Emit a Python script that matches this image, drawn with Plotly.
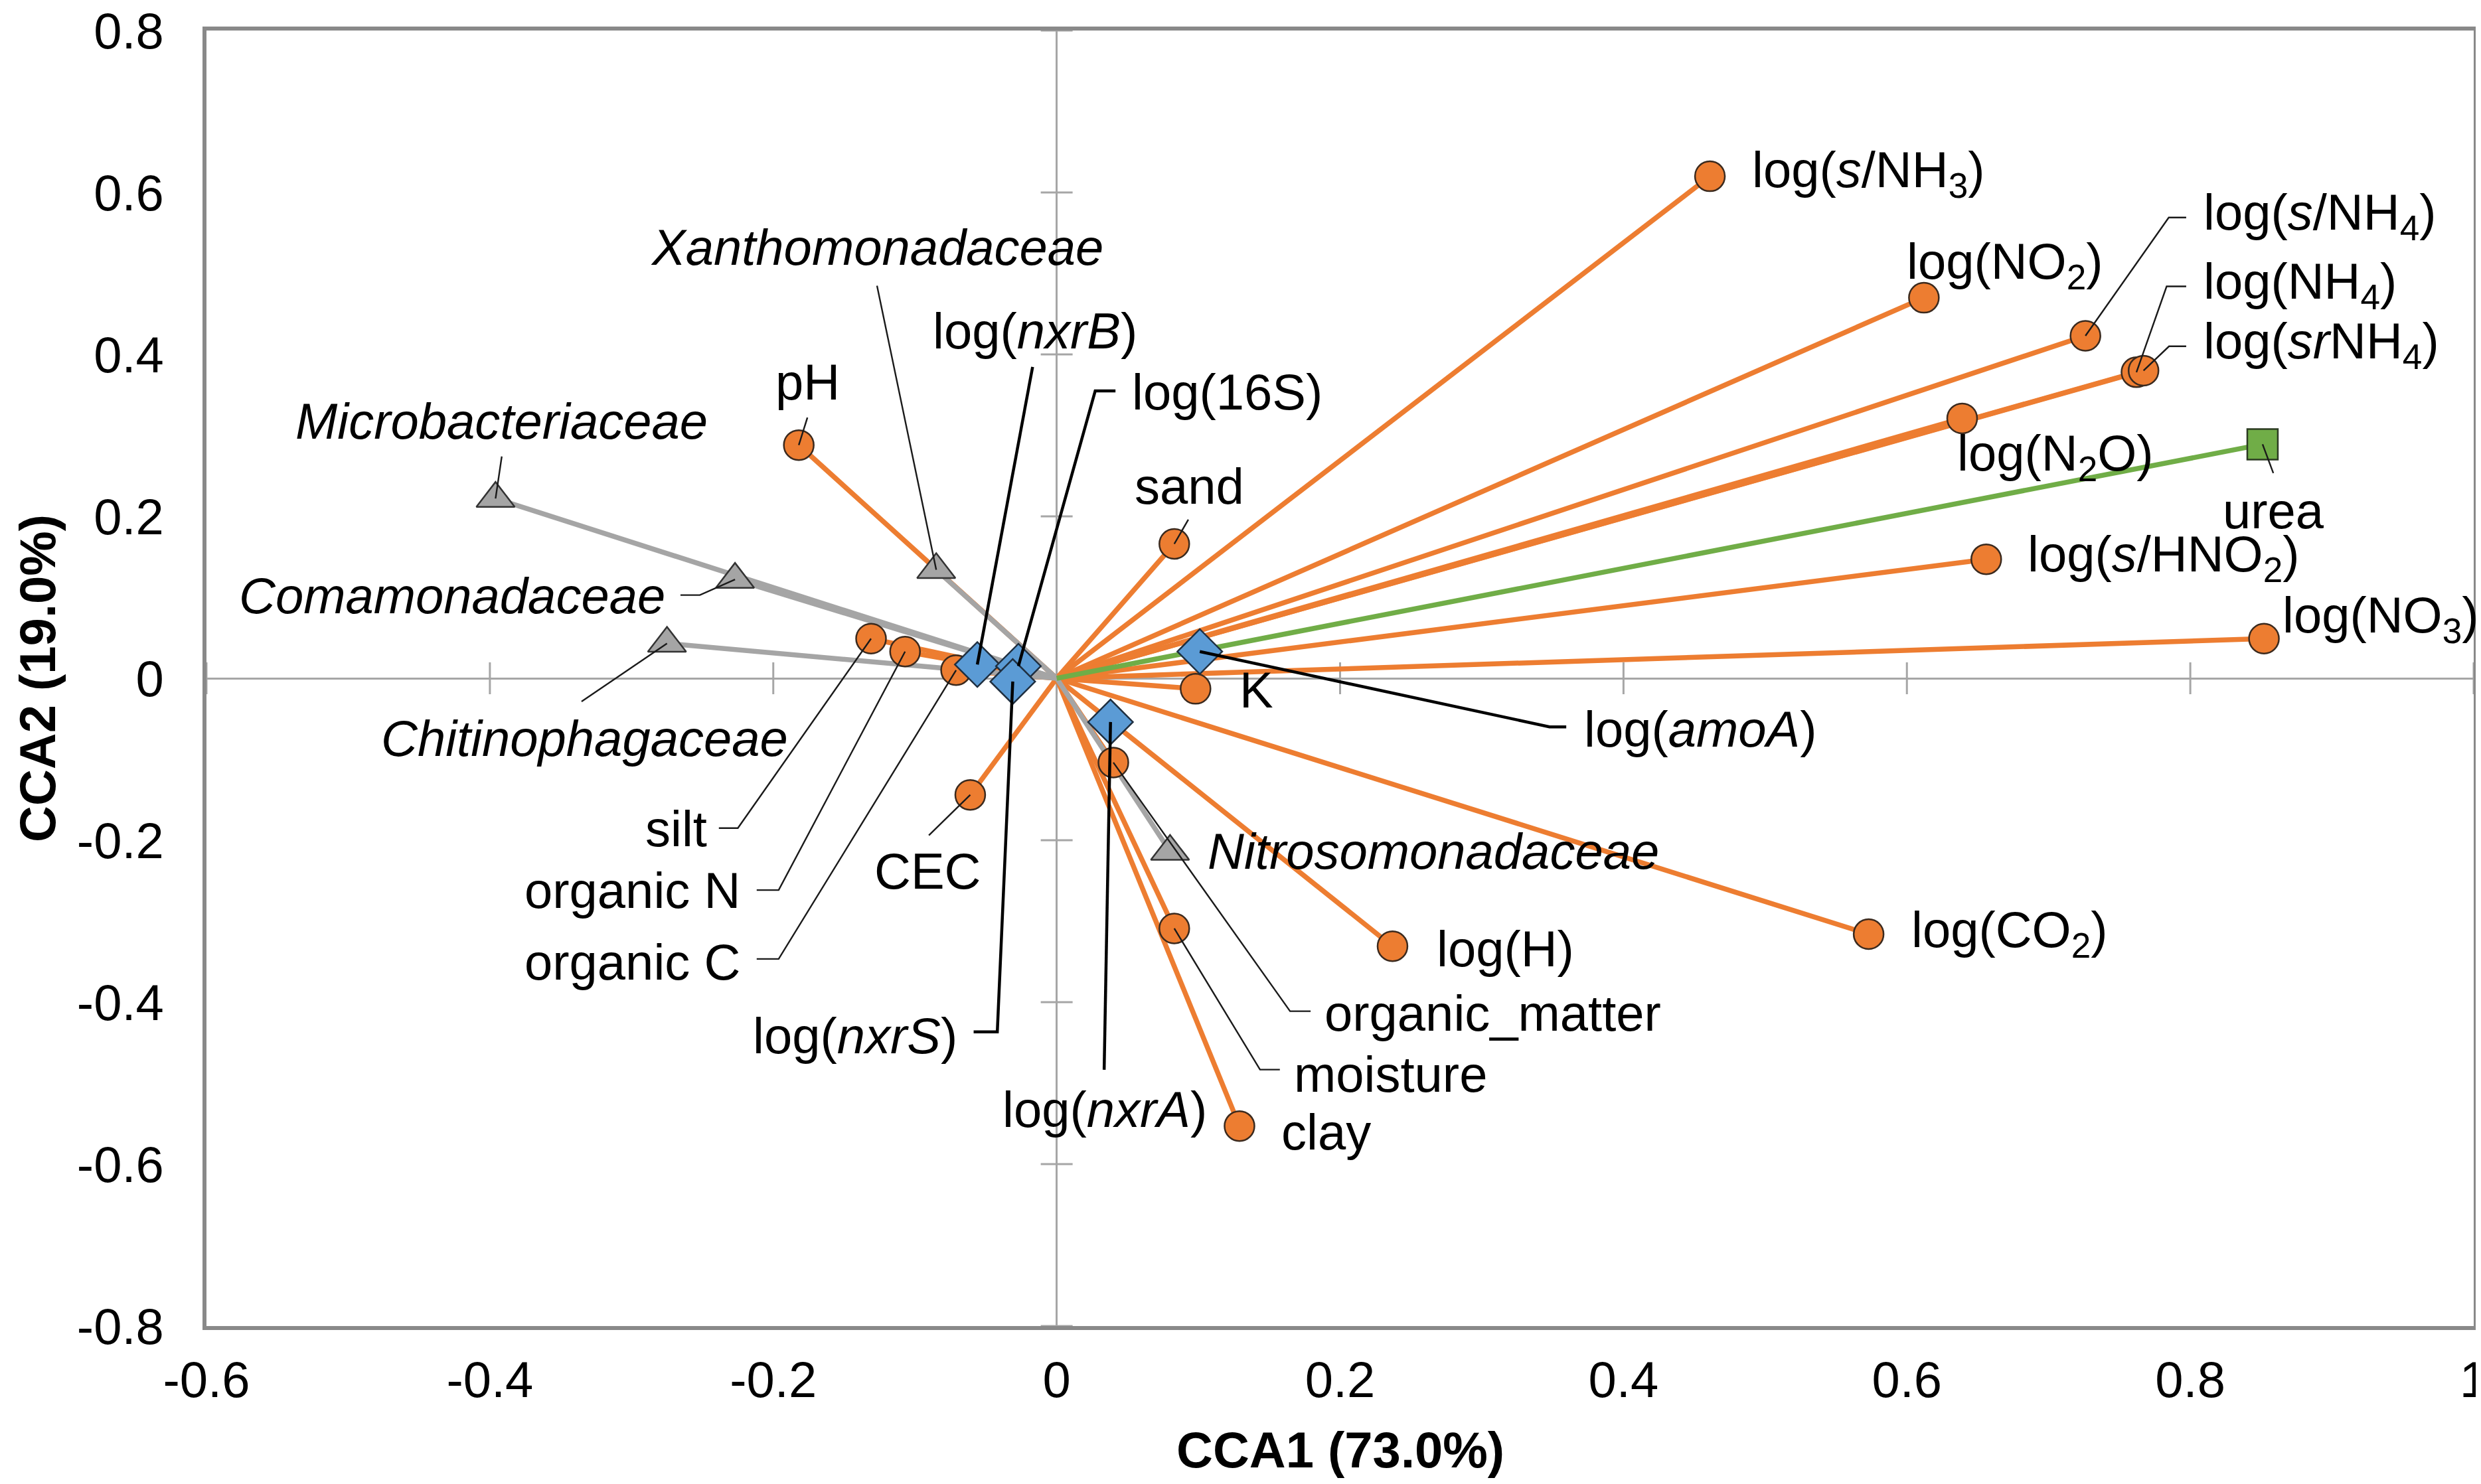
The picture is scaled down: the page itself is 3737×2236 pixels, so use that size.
import plotly.graph_objects as go

# ---------------- data ----------------
env_names = ["log(s/NH3)", "log(NO2)", "log(s/NH4)", "log(NH4)", "log(srNH4)", "log(N2O)",
             "log(s/HNO2)", "log(NO3)", "K", "log(CO2)", "log(H)", "organic_matter",
             "moisture", "clay", "sand", "pH", "silt", "organic N", "organic C", "CEC"]
env_x = [0.461, 0.612, 0.726, 0.762, 0.767, 0.639, 0.656, 0.852, 0.098, 0.573, 0.237, 0.040,
         0.083, 0.129, 0.083, -0.182, -0.131, -0.107, -0.071, -0.061]
env_y = [0.620, 0.470, 0.423, 0.378, 0.380, 0.321, 0.147, 0.049, -0.013, -0.316, -0.331, -0.104,
         -0.309, -0.553, 0.166, 0.288, 0.049, 0.033, 0.010, -0.144]

urea_names = ["urea"]
urea_x = [0.851]
urea_y = [0.289]

gene_names = ["log(amoA)", "log(nxrB)", "log(16S)", "log(nxrS)", "log(nxrA)"]
gene_x = [0.101, -0.056, -0.027, -0.031, 0.038]
gene_y = [0.033, 0.017, 0.015, -0.004, -0.054]

fam_names = ["Microbacteriaceae", "Comamonadaceae", "Chitinophagaceae",
             "Xanthomonadaceae", "Nitrosomonadaceae"]
fam_x = [-0.396, -0.227, -0.275, -0.085, 0.080]
fam_y = [0.222, 0.122, 0.043, 0.134, -0.214]

x_ticks = [-0.6, -0.4, -0.2, 0, 0.2, 0.4, 0.6, 0.8, 1]
x_ticktext = ["-0.6", "-0.4", "-0.2", "0", "0.2", "0.4", "0.6", "0.8", "1"]
y_ticks = [-0.8, -0.6, -0.4, -0.2, 0, 0.2, 0.4, 0.6, 0.8]
y_ticktext = ["-0.8", "-0.6", "-0.4", "-0.2", "0", "0.2", "0.4", "0.6", "0.8"]

x_title = "CCA1 (73.0%)"
y_title = "CCA2 (19.0%)"

# ---------------- label layout (text, position, anchor, leader bends, leader style) ----------------
labels = {
    "log(s/NH3)": ("log(<i>s</i>/NH<sub>3</sub>)", 0.4896, 0.624, "left", [], None),
    "log(NO2)": ("log(NO<sub>2</sub>)", 0.599, 0.511, "left", [], None),
    "log(s/NH4)": ("log(<i>s</i>/NH<sub>4</sub>)", 0.8082, 0.571, "left",
                   [(0.7848, 0.569), (0.7971, 0.569)], "thin"),
    "log(NH4)": ("log(NH<sub>4</sub>)", 0.8082, 0.486, "left",
                 [(0.7833, 0.484), (0.7971, 0.484)], "thin"),
    "log(srNH4)": ("log(<i>sr</i>NH<sub>4</sub>)", 0.8082, 0.412, "left",
                   [(0.785, 0.410), (0.7971, 0.410)], "thin"),
    "log(N2O)": ("log(N<sub>2</sub>O)", 0.6347, 0.274, "left", [], None),
    "urea": ("urea", 0.8586, 0.207, "center", [(0.8586, 0.2534)], "thin"),
    "log(s/HNO2)": ("log(<i>s</i>/HNO<sub>2</sub>)", 0.6842, 0.149, "left", [], None),
    "log(NO3)": ("log(NO<sub>3</sub>)", 0.8639, 0.074, "left", [], None),
    "K": ("K", 0.1282, -0.0147, "left", [], None),
    "log(CO2)": ("log(CO<sub>2</sub>)", 0.6024, -0.315, "left", [], None),
    "log(H)": ("log(H)", 0.2671, -0.3344, "left", [], None),
    "organic_matter": ("organic_matter", 0.188, -0.4132, "left",
                       [(0.1647, -0.4112), (0.1792, -0.4112)], "thin"),
    "moisture": ("moisture", 0.1666, -0.489, "left",
                 [(0.1435, -0.4833), (0.1575, -0.4833)], "thin"),
    "clay": ("clay", 0.1575, -0.560, "left", [], None),
    "sand": ("sand", 0.0935, 0.2373, "center", [(0.0929, 0.196)], "thin"),
    "pH": ("pH", -0.1759, 0.3663, "center", [(-0.1759, 0.322)], "thin"),
    "silt": ("silt", -0.246, -0.1858, "right", [(-0.225, -0.185), (-0.2384, -0.185)], "thin"),
    "organic N": ("organic N", -0.2226, -0.2622, "right",
                  [(-0.1962, -0.2616), (-0.2117, -0.2616)], "thin"),
    "organic C": ("organic C", -0.2226, -0.350, "right",
                  [(-0.1962, -0.3466), (-0.2117, -0.3466)], "thin"),
    "CEC": ("CEC", -0.091, -0.2385, "center", [(-0.0902, -0.194)], "thin"),
    "log(amoA)": ("log(<i>amoA</i>)", 0.3713, -0.063, "left",
                  [(0.3478, -0.060), (0.3596, -0.060)], "thick"),
    "log(nxrB)": ("log(<i>nxrB</i>)", -0.0151, 0.4288, "center", [(-0.017, 0.3845)], "thick"),
    "log(16S)": ("log(16S)", 0.0524, 0.3534, "left", [(0.0272, 0.355), (0.0415, 0.355)], "thick"),
    "log(nxrS)": ("log(<i>nxrS</i>)", -0.0691, -0.441, "right",
                  [(-0.0419, -0.4366), (-0.0586, -0.4366)], "thick"),
    "log(nxrA)": ("log(<i>nxrA</i>)", 0.0341, -0.532, "center", [(0.0335, -0.4835)], "thick"),
    "Microbacteriaceae": ("<i>Microbacteriaceae</i>", -0.3916, 0.3178, "center",
                          [(-0.3916, 0.274)], "thin"),
    "Comamonadaceae": ("<i>Comamonadaceae</i>", -0.2751, 0.1018, "right",
                       [(-0.2518, 0.1028), (-0.2655, 0.1028)], "thin"),
    "Chitinophagaceae": ("<i>Chitinophagaceae</i>", -0.3334, -0.074, "center",
                         [(-0.3353, -0.0287)], "thin"),
    "Xanthomonadaceae": ("<i>Xanthomonadaceae</i>", -0.127, 0.5322, "center",
                         [(-0.1268, 0.4849)], "thin"),
    "Nitrosomonadaceae": ("<i>Nitrosomonadaceae</i>", 0.1055, -0.2135, "left", [], None),
}

ORANGE = "#ED7D31"
BLUE = "#5B9BD5"
GRAY = "#A5A5A5"
GREEN = "#70AD47"
FONT = "Liberation Sans, Arial, sans-serif"
FS = 76


def vectors(xs, ys):
    vx, vy = [], []
    for a, b in zip(xs, ys):
        vx += [0, a, None]
        vy += [0, b, None]
    return vx, vy


fig = go.Figure()

ex, ey = vectors(env_x, env_y)
fig.add_trace(go.Scatter(x=ex, y=ey, mode="lines", line=dict(color=ORANGE, width=7.5), hoverinfo="skip"))
fx, fy = vectors(fam_x, fam_y)
fig.add_trace(go.Scatter(x=fx, y=fy, mode="lines", line=dict(color=GRAY, width=7.5), hoverinfo="skip"))
ux, uy = vectors(urea_x, urea_y)
fig.add_trace(go.Scatter(x=ux, y=uy, mode="lines", line=dict(color=GREEN, width=7.5), hoverinfo="skip"))

fig.add_trace(go.Scatter(x=env_x, y=env_y, mode="markers",
                         marker=dict(symbol="circle", size=45, color=ORANGE,
                                     line=dict(color="#3b2a1e", width=2.5)), hoverinfo="skip"))
fig.add_trace(go.Scatter(x=fam_x, y=fam_y, mode="markers",
                         marker=dict(symbol="triangle-up", size=50, color=GRAY,
                                     line=dict(color="#333333", width=2.5)), hoverinfo="skip"))
fig.add_trace(go.Scatter(x=urea_x, y=urea_y, mode="markers",
                         marker=dict(symbol="square", size=46, color=GREEN,
                                     line=dict(color="#2b3a22", width=2.5)), hoverinfo="skip"))
fig.add_trace(go.Scatter(x=gene_x, y=gene_y, mode="markers",
                         marker=dict(symbol="diamond", size=52, color=BLUE,
                                     line=dict(color="#1f2f40", width=2.5)), hoverinfo="skip"))

# leaders
pts = {}
for n, a, b in zip(env_names, env_x, env_y):
    pts[n] = (a, b)
for n, a, b in zip(urea_names, urea_x, urea_y):
    pts[n] = (a, b)
for n, a, b in zip(gene_names, gene_x, gene_y):
    pts[n] = (a, b)
for n, a, b in zip(fam_names, fam_x, fam_y):
    pts[n] = (a, b)

lead = {"thin": ([], []), "thick": ([], [])}
annotations = []
for key, (txt, tx, ty, anc, bends, style) in labels.items():
    if style:
        lx, ly = lead[style]
        px, py = pts[key]
        lx.append(px)
        ly.append(py)
        for bx, by in bends:
            lx.append(bx)
            ly.append(by)
        lx.append(None)
        ly.append(None)
    annotations.append(dict(x=tx, y=ty, xref="x", yref="y", text=txt, showarrow=False,
                            xanchor=anc, yanchor="middle",
                            font=dict(family=FONT, size=FS, color="black")))

fig.add_trace(go.Scatter(x=lead["thin"][0], y=lead["thin"][1], mode="lines",
                         line=dict(color="#1a1a1a", width=2.4), hoverinfo="skip"))
fig.add_trace(go.Scatter(x=lead["thick"][0], y=lead["thick"][1], mode="lines",
                         line=dict(color="black", width=4.5), hoverinfo="skip"))

# axis titles
annotations.append(dict(x=0.5, y=0, xref="paper", yref="paper", yshift=-186, text="<b>" + x_title + "</b>",
                        showarrow=False, xanchor="center", yanchor="middle",
                        font=dict(family=FONT, size=FS, color="black")))
annotations.append(dict(x=0, y=0.5, xref="paper", yref="paper", xshift=-255, text="<b>" + y_title + "</b>",
                        showarrow=False, xanchor="center", yanchor="middle", textangle=-90,
                        font=dict(family=FONT, size=FS, color="black")))

# tick marks crossing the zero lines
shapes = []
for t in x_ticks:
    shapes.append(dict(type="line", xref="x", yref="y", x0=t, x1=t, ysizemode="pixel", yanchor=0,
                       y0=-24, y1=24, line=dict(color="#A6A6A6", width=3), layer="below"))
for t in y_ticks:
    shapes.append(dict(type="line", xref="x", yref="y", y0=t, y1=t, xsizemode="pixel", xanchor=0,
                       x0=-24, x1=24, line=dict(color="#A6A6A6", width=3), layer="below"))

fig.update_layout(
    width=3737, height=2236,
    margin=dict(l=303, r=19, t=38, b=246),
    paper_bgcolor="white", plot_bgcolor="white",
    showlegend=False,
    annotations=annotations,
    shapes=shapes,
    font=dict(family=FONT, size=FS, color="black"),
)
fig.update_xaxes(range=[-0.6, 1], tickvals=x_ticks, ticktext=x_ticktext, showgrid=False,
                 zeroline=True, zerolinecolor="#A6A6A6", zerolinewidth=3,
                 showline=True, linecolor="#898989", linewidth=6, mirror=True, ticks="",
                 ticklabelstandoff=10, ticklabeloverflow="allow", automargin=False,
                 tickfont=dict(family=FONT, size=FS, color="black"))
fig.update_yaxes(range=[-0.8, 0.8], tickvals=y_ticks, ticktext=y_ticktext, showgrid=False,
                 zeroline=True, zerolinecolor="#A6A6A6", zerolinewidth=3,
                 showline=True, linecolor="#898989", linewidth=6, mirror=True, ticks="",
                 ticklabelstandoff=43, ticklabeloverflow="allow", automargin=False,
                 tickfont=dict(family=FONT, size=FS, color="black"))

fig.write_html("out.html")
